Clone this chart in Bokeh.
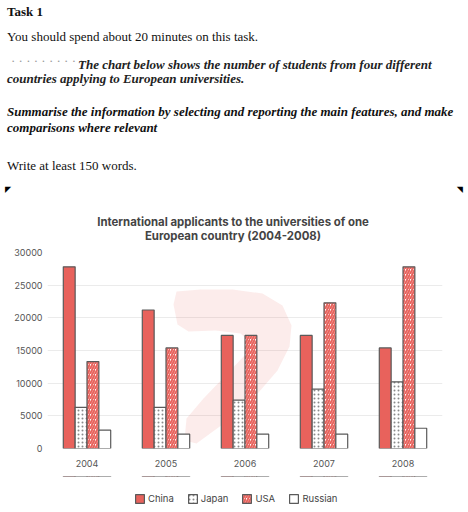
from bokeh.plotting import figure
from bokeh.models import (Range1d, FactorRange, Legend, LegendItem,
                          FixedTicker, ColumnDataSource, Div)
from bokeh.layouts import column
from bokeh.transform import dodge
from bokeh.embed import file_html
from bokeh.resources import INLINE

# ---- data ----
years = ["2004", "2005", "2006", "2007", "2008"]
china = [27800, 21200, 17300, 17300, 15400]
japan = [6300, 6300, 7400, 9100, 10200]
usa = [13300, 15400, 17300, 22300, 27800]
russian = [2800, 2200, 2200, 2200, 3100]
y_ticks = [0, 5000, 10000, 15000, 20000, 25000, 30000]
series_names = ["China", "Japan", "USA", "Russian"]

chart_title = ["International applicants to the universities of one",
               "European country (2004-2008)"]

RED = "#e8625c"
EDGE = "#5a5a5a"

# ---------- top block: task text + chart title (HTML text) ----------
SERIF = "'Liberation Serif', 'Times New Roman', serif"
SANS = "Inter, sans-serif"

def span(x, base, text, size=13, weight="normal", style="normal",
         font=SERIF, color="#111111", align="left", asc=0.84):
    top_px = base - size * asc
    if align == "center":
        pos = f"left:{x - 200}px;width:400px;text-align:center;"
    elif align == "right":
        pos = f"left:{x - 60}px;width:60px;text-align:right;"
    else:
        pos = f"left:{x}px;"
    return (f'<div style="position:absolute;{pos}top:{top_px:.1f}px;'
            f'font-family:{font};font-size:{size}px;line-height:{size}px;'
            f'font-weight:{weight};font-style:{style};color:{color};'
            f'white-space:nowrap;">{text}</div>')

parts = [
    span(7, 16, "Task 1", weight="bold"),
    span(7, 41, "You should spend about 20 minutes on this task."),
    span(11, 65, "· · · · · · · · · ·", size=13, color="#999999"),
    span(78, 68.5, "The chart below shows the number of students from four different",
         weight="bold", style="italic", color="#222222"),
    span(7, 83, "countries applying to European universities.",
         weight="bold", style="italic", color="#222222"),
    span(7, 116, "Summarise the information by selecting and reporting the main features, and make",
         weight="bold", style="italic"),
    span(7, 132, "comparisons where relevant", weight="bold", style="italic"),
    span(7, 170, "Write at least 150 words."),
    span(5, 193, "◤", size=8, font="'DejaVu Sans'", color="#000000"),
    span(463, 193, "◥", size=8, font="'DejaVu Sans'", color="#000000",
         align="right"),
    span(233, 226, chart_title[0], size=11.4, weight="bold", font=SANS,
         color="#444444", align="center", asc=0.8),
    span(233, 240, chart_title[1], size=11.4, weight="bold", font=SANS,
         color="#444444", align="center", asc=0.8),
]
html = ('<div style="position:relative;width:468px;height:244px;'
        'background:white;margin:0;padding:0;">' + "".join(parts) + "</div>")
top = Div(text=html, width=468, height=244, margin=0)

# ---------- chart ----------
src = ColumnDataSource(dict(year=years, China=china, Japan=japan,
                            USA=usa, Russian=russian))

p = figure(width=468, height=232, x_range=FactorRange(*years),
           y_range=Range1d(0, 30000), output_backend="svg",
           toolbar_location=None, title=None,
           min_border_left=47, min_border_right=26,
           min_border_top=8, min_border_bottom=28)
p.outline_line_color = None
p.background_fill_color = "white"
p.border_fill_color = "white"

# page-pixel helper for the watermark (x: synthetic factor coords)
FX0, FW = 47.0, 79.0
def PX(v):
    return (v - FX0) / FW
p.extra_y_ranges = {"py": Range1d(448, 252)}

wx = [176, 200, 232, 262, 282, 291, 289, 277, 252, 222, 196, 184, 186, 203,
      226, 244, 249, 240, 215, 188, 177, 173]
wy = [291, 289, 289, 293, 305, 325, 346, 370, 399, 424, 443, 440, 418, 398,
      374, 355, 341, 333, 330, 331, 324, 304]
p.patch([PX(v) for v in wx], wy, y_range_name="py",
        fill_color=RED, fill_alpha=0.12, line_color=None)

STYLES = [
    dict(fill_color=RED, line_color=EDGE, line_width=1.2),
    dict(fill_color="white", line_color=EDGE, line_width=1.2,
         hatch_pattern="dot", hatch_color="#8a8a8a", hatch_scale=4,
         hatch_weight=1),
    dict(fill_color="white", line_color=EDGE, line_width=1.2,
         hatch_pattern="/", hatch_color=RED, hatch_scale=5, hatch_weight=2),
    dict(fill_color="white", line_color=EDGE, line_width=1.2),
]
offsets = [-0.225, -0.075, 0.075, 0.225]
w = 0.15
for name, off, st in zip(series_names, offsets, STYLES):
    p.vbar(x=dodge("year", off, range=p.x_range), top=name, width=w,
           source=src, **st)

p.yaxis.ticker = FixedTicker(ticks=y_ticks)
for ax in (p.xaxis[0], p.yaxis[0]):
    ax.axis_line_color = None
    ax.major_tick_line_color = None
    ax.minor_tick_line_color = None
    ax.major_tick_out = 0
    ax.major_tick_in = 0
    ax.major_label_text_font = "Inter"
    ax.major_label_text_font_size = "9px"
    ax.major_label_text_color = "#555555"
p.yaxis.major_label_standoff = 5
p.xaxis.major_label_standoff = 11
p.xgrid.grid_line_color = None
p.ygrid.grid_line_color = "#ebebeb"
p.ygrid.grid_line_width = 1

# ---------- legend strip ----------
# same series drawn into a strip whose value window lies below zero, so the
# bars fall outside the visible frame and only the legend keys show
leg = figure(width=468, height=36, output_backend="svg",
             x_range=FactorRange(*years), y_range=Range1d(-2, -1),
             toolbar_location=None, title=None,
             x_axis_location=None, y_axis_location=None,
             min_border_left=47, min_border_right=26,
             min_border_top=0, min_border_bottom=0)
leg.grid.visible = False
leg.outline_line_color = None
leg.background_fill_color = "white"
leg.border_fill_color = "white"
key_renderers = [leg.vbar(x=dodge("year", off, range=leg.x_range), top=name,
                          width=w, source=src, **st)
                 for name, off, st in zip(series_names, offsets, STYLES)]

legend = Legend(items=[LegendItem(label=n, renderers=[r])
                       for n, r in zip(series_names, key_renderers)],
                orientation="horizontal", location=(87, 8),
                glyph_width=11, glyph_height=11, label_height=11,
                label_text_font="Inter", label_text_font_size="9.5px",
                label_text_color="#444444", label_standoff=3, spacing=13,
                padding=0, margin=0, border_line_color=None,
                background_fill_alpha=0)
leg.add_layout(legend)

layout = column(top, p, leg, spacing=0)
open("out.html", "w").write(file_html(layout, INLINE))
